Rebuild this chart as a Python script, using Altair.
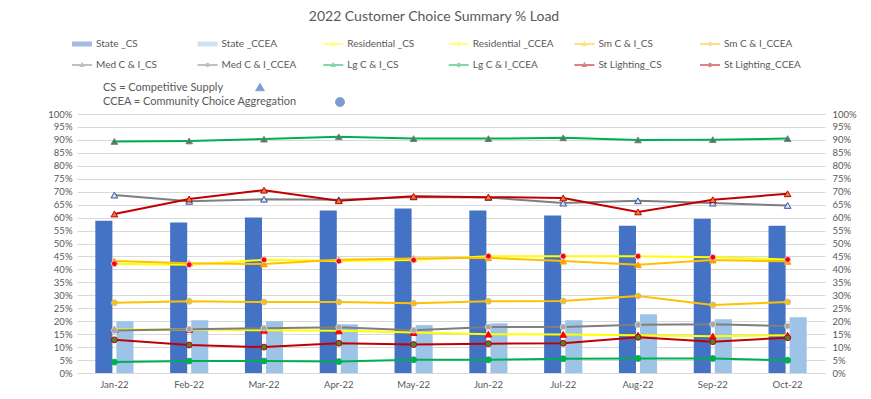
import altair as alt
import pandas as pd

months = ["Jan-22", "Feb-22", "Mar-22", "Apr-22", "May-22", "Jun-22", "Jul-22", "Aug-22", "Sep-22", "Oct-22"]

series_names = ["State _CS", "State _CCEA", "Residential _CS", "Residential _CCEA",
                "Sm C & I_CS", "Sm C & I_CCEA", "Med C & I_CS", "Med C & I_CCEA",
                "Lg C & I_CS", "Lg C & I_CCEA", "St Lighting_CS", "St Lighting_CCEA"]

state_cs = [58.8, 58.1, 60.0, 62.7, 63.5, 62.7, 60.8, 56.9, 59.6, 56.9]
state_ccea = [20.0, 20.4, 20.0, 18.8, 18.5, 19.2, 20.4, 22.7, 20.8, 21.5]
res_cs = [16.8, 16.8, 16.5, 16.3, 15.6, 15.0, 14.9, 14.6, 14.2, 14.6]
res_ccea = [42.2, 41.8, 43.7, 43.2, 43.6, 45.1, 45.1, 45.1, 44.7, 43.8]
sm_cs = [43.2, 42.4, 42.1, 43.7, 44.2, 44.5, 43.2, 41.8, 43.6, 43.1]
sm_ccea = [27.1, 27.7, 27.4, 27.4, 26.9, 27.7, 27.8, 29.7, 26.3, 27.4]
med_cs = [68.7, 66.3, 67.1, 66.9, 68.0, 67.8, 65.6, 66.5, 65.6, 64.7]
med_ccea = [16.4, 16.9, 17.3, 17.7, 16.5, 17.8, 17.8, 18.6, 18.8, 18.1]
lg_cs = [89.4, 89.6, 90.3, 91.2, 90.5, 90.5, 90.8, 90.0, 90.1, 90.5]
lg_ccea = [4.2, 4.6, 4.6, 4.4, 5.1, 5.1, 5.5, 5.6, 5.6, 4.9]
stl_cs = [61.4, 67.2, 70.6, 66.5, 68.2, 67.9, 67.6, 62.2, 66.9, 69.2]
stl_ccea = [12.8, 10.8, 10.0, 11.5, 11.0, 11.3, 11.5, 13.8, 12.1, 13.6]

all_values = [state_cs, state_ccea, res_cs, res_ccea, sm_cs, sm_ccea,
              med_cs, med_ccea, lg_cs, lg_ccea, stl_cs, stl_ccea]

line_colors = ["#4472C4", "#9DC3E6", "#FFFF00", "#FFFF00", "#FFC000", "#FFC000",
               "#7F7F7F", "#7F7F7F", "#00B050", "#00B050", "#C00000", "#C00000"]
marker_fills = ["#4472C4", "#9DC3E6", "#FF0000", "#FF0000", "#FFA000", "#FFC000",
                "#D9E1F2", "#A6A6A6", "#2E8B57", "#00B050", "#ED7D31", "#548235"]
marker_strokes = ["#4472C4", "#9DC3E6", "#FF0000", "#E6C8E6", "#FFA000", "#BFBFBF",
                  "#2F5597", "#D0D0D0", "#808080", "#00B050", "#C00000", "#C00000"]

BAR = "M-1,-0.25H1V0.25H-1Z"
TRI = "M-1,-0.1H1V0.1H-1Z M0,-0.32L0.28,0.2H-0.28Z"
CIR = "M-1,-0.1H1V0.1H-1Z M0.22,0A0.22,0.22 0 1,1 -0.22,0A0.22,0.22 0 1,1 0.22,0Z"
legend_shapes = [BAR, BAR, TRI, CIR, TRI, CIR, TRI, CIR, TRI, CIR, TRI, CIR]

rows = []
for name, vals in zip(series_names, all_values):
    kind = "bar" if name.startswith("State") else ("CS" if name.endswith("_CS") else "CCEA")
    for m, v in zip(months, vals):
        rows.append({"month": m, "series": name, "value": v / 100.0, "kind": kind})
df = pd.DataFrame(rows)
df_bar = df[df.kind == "bar"]
df_line = df[df.kind != "bar"]
df_cs = df[df.kind == "CS"]
df_ccea = df[df.kind == "CCEA"]
df_leg = pd.DataFrame({"series": series_names})

FONT = "Lato"
TXT = "#595959"
GRID = "#D9D9D9"

color_scale = alt.Scale(domain=series_names, range=line_colors)
fill_scale = alt.Scale(domain=series_names, range=marker_fills)
stroke_scale = alt.Scale(domain=series_names, range=marker_strokes)
shape_scale = alt.Scale(domain=series_names, range=legend_shapes)
yscale = alt.Scale(domain=[0, 1], nice=False)
ticks = [i / 20 for i in range(21)]

x = alt.X("month:N", sort=months, title=None,
          scale=alt.Scale(paddingInner=0.49, paddingOuter=0.245),
          axis=alt.Axis(labelColor=TXT, labelFontSize=9.5, labelFont=FONT, ticks=False,
                        domainColor=GRID, labelPadding=6, labelAngle=0))

left_axis = alt.Axis(format=".0%", values=ticks, grid=True, gridColor=GRID, domain=False,
                     ticks=False, labelColor=TXT, labelFontSize=9.5, labelFont=FONT, labelPadding=5)
right_axis = alt.Axis(format=".0%", values=ticks, grid=False, domain=False, orient="right",
                      ticks=False, labelColor=TXT, labelFontSize=9.5, labelFont=FONT, labelPadding=7)

legend_layer = alt.Chart(df_leg).mark_point(filled=True, size=0).encode(
    x=alt.value(0),
    y=alt.value(0),
    color=alt.Color("series:N", scale=color_scale,
                    legend=alt.Legend(title=None, orient="none", legendX=-5, legendY=-80,
                                      direction="horizontal",
                                      columns=6, gridAlign="all", columnPadding=20.6, rowPadding=6,
                                      symbolSize=400, symbolOpacity=1, symbolStrokeWidth=0,
                                      labelFont=FONT, labelFontSize=10, labelColor=TXT,
                                      labelOffset=4)),
    shape=alt.Shape("series:N", scale=shape_scale),
)

bars = alt.Chart(df_bar).mark_bar().encode(
    x=x,
    xOffset=alt.XOffset("series:N", sort=series_names[:2],
                        scale=alt.Scale(domain=series_names[:2], paddingInner=0.19, paddingOuter=0)),
    y=alt.Y("value:Q", scale=yscale, axis=left_axis, title=None),
    color=alt.Color("series:N", scale=color_scale, legend=None),
)

lines = alt.Chart(df_line).mark_line(strokeWidth=2).encode(
    x=x,
    y=alt.Y("value:Q", scale=yscale, axis=right_axis, title=None),
    color=alt.Color("series:N", scale=color_scale, legend=None),
)

tri_pts = alt.Chart(df_cs).mark_point(shape="triangle-up", filled=True, size=45, strokeWidth=1, opacity=1).encode(
    x=x,
    y=alt.Y("value:Q", scale=yscale, axis=None),
    fill=alt.Fill("series:N", scale=fill_scale, legend=None),
    stroke=alt.Stroke("series:N", scale=stroke_scale, legend=None),
)

cir_pts = alt.Chart(df_ccea).mark_point(shape="circle", filled=True, size=35, strokeWidth=1, opacity=1).encode(
    x=x,
    y=alt.Y("value:Q", scale=yscale, axis=None),
    fill=alt.Fill("series:N", scale=fill_scale, legend=None),
    stroke=alt.Stroke("series:N", scale=stroke_scale, legend=None),
)

ann1 = alt.Chart(pd.DataFrame({"t": ["CS = Competitive Supply"]})).mark_text(
    align="left", baseline="middle", font=FONT, fontSize=11, color=TXT
).encode(x=alt.value(26), y=alt.value(-26), text="t:N")
ann2 = alt.Chart(pd.DataFrame({"t": ["CCEA = Community Choice Aggregation"]})).mark_text(
    align="left", baseline="middle", font=FONT, fontSize=11, color=TXT
).encode(x=alt.value(26), y=alt.value(-12), text="t:N")
ann_tri = alt.Chart(pd.DataFrame({"t": ["CS"]})).mark_point(
    shape="triangle-up", filled=True, size=80, color="#4472C4", stroke="#2F5597", strokeWidth=0.5
).encode(x=alt.value(183), y=alt.value(-27))
ann_cir = alt.Chart(pd.DataFrame({"t": ["CCEA"]})).mark_point(
    shape="circle", filled=True, size=85, color="#4472C4", stroke="#2F5597", strokeWidth=0.5
).encode(x=alt.value(263), y=alt.value(-12))

chart = alt.layer(
    legend_layer, bars, lines, tri_pts, cir_pts, ann1, ann2, ann_tri, ann_cir
).resolve_scale(y="independent").properties(
    width=748, height=259,
    title=alt.TitleParams("2022 Customer Choice Summary % Load", font=FONT, fontSize=14,
                          color=TXT, fontWeight="normal", anchor="middle", dx=-17, offset=10),
    padding={"left": 39, "top": 2, "right": 5, "bottom": 5},
).configure_view(stroke=None)

chart.save("out.html", embed_options={"renderer": "svg", "actions": False})
